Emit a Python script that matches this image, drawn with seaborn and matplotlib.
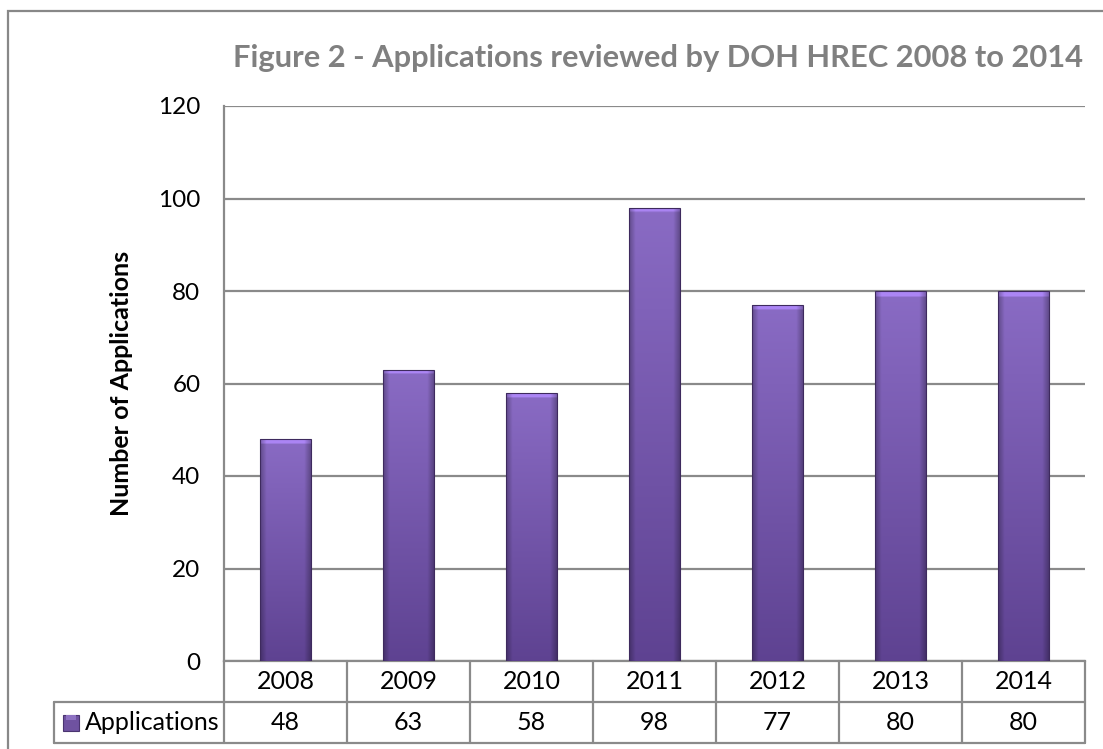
import numpy as np
import matplotlib
matplotlib.use("Agg")
import matplotlib.pyplot as plt
from matplotlib.lines import Line2D
from matplotlib.patches import Rectangle
import seaborn as sns
import pandas as pd

years = ["2008", "2009", "2010", "2011", "2012", "2013", "2014"]
applications = [48, 63, 58, 98, 77, 80, 80]
series_name = "Applications"
title_text = "Figure 2 - Applications reviewed by DOH HREC 2008 to 2014"
ylabel_text = "Number of Applications"
yticks = [0, 20, 40, 60, 80, 100, 120]

sns.set_theme(style="white")
plt.rcParams['font.family'] = ['Lato', 'DejaVu Sans']

W, H = 1103, 749
fig = plt.figure(figsize=(W / 100, H / 100), dpi=100)

def fx(px):
    return px / W

def fy(py):
    return 1 - py / H

L, R, T, B = 224, 1085, 106, 661
ax = fig.add_axes([fx(L), fy(B), (R - L) / W, (B - T) / H])

df = pd.DataFrame({"year": years, "value": applications})
base = "#6f52a0"
sns.barplot(data=df, x="year", y="value", color=base, width=0.41, ax=ax,
            saturation=1, zorder=3)

# gradient / bevel overlay on bars
def bar_gradient(nx=60, ny=200):
    top = np.array([0.54, 0.42, 0.77])
    bot = np.array([0.37, 0.26, 0.57])
    t = np.linspace(0, 1, ny)[:, None, None]
    col = top * (1 - t) + bot * t
    xs = np.linspace(-1, 1, nx)[None, :, None]
    edge = 1 - 0.28 * np.clip((np.abs(xs) - 0.75) / 0.25, 0, 1)
    img = col * edge
    img = np.broadcast_to(img, (ny, nx, 3)).copy()
    return img

gridc = "#8a8a8a"
for p in ax.patches:
    x0, y0 = p.get_x(), p.get_y()
    w, h = p.get_width(), p.get_height()
    img = bar_gradient()
    band = max(2, int(200 * min(1.2 / h, 0.08)))
    img[:band] = np.clip(img[:band] * 1.25, 0, 1)
    im = ax.imshow(img, extent=[x0, x0 + w, y0, y0 + h], aspect="auto",
                   zorder=4, interpolation="bilinear")
    im.set_clip_path(p)
    p.set_edgecolor("#3e2a5e")
    p.set_linewidth(0.8)
    p.set_zorder(5)
    p.set_facecolor("none")

ax.set_xlim(-0.5, len(years) - 0.5)
ax.set_ylim(0, 120)
ax.set_yticks(yticks)
ax.set_yticklabels([str(v) for v in yticks], fontsize=17.5, color="black")
ax.set_xticks([])
ax.set_xlabel("")
ax.set_ylabel(ylabel_text, fontsize=18, fontweight="bold", color="black")
ax.yaxis.set_label_coords((133 - L) / (R - L), 0.5)
ax.tick_params(axis="y", length=0, pad=17)
ax.yaxis.grid(True, color=gridc, linewidth=1.6, zorder=0)
ax.set_axisbelow(True)
for s in ["top", "right"]:
    ax.spines[s].set_visible(False)
for s in ["left", "bottom"]:
    ax.spines[s].set_color(gridc)
    ax.spines[s].set_linewidth(1.6)

# data table below the axis
xt = ax.get_xaxis_transform()
ph = B - T
r1 = -(702 - B) / ph
r2 = -(743 - B) / ph
tc = "#8a8a8a"
n = len(years)
for i in range(n + 1):
    ax.add_line(Line2D([i - 0.5, i - 0.5], [0, r2], transform=xt, color=tc,
                       linewidth=1.6, clip_on=False))
for yy in [702, 743]:
    fig.add_artist(Line2D([fx(54), fx(R)], [fy(yy), fy(yy)], color=tc, linewidth=1.6))
fig.add_artist(Line2D([fx(54), fx(54)], [fy(702), fy(743)], color=tc, linewidth=1.6))

for i, (yr, v) in enumerate(zip(years, applications)):
    ax.text(i, r1 / 2, yr, transform=xt, ha="center", va="center", fontsize=18,
            color="black", clip_on=False)
    ax.text(i, (r1 + r2) / 2, str(v), transform=xt, ha="center", va="center",
            fontsize=18, color="black", clip_on=False)

# legend key in table
fig.add_artist(Rectangle((fx(63), fy(731)), fx(79) - fx(63), fy(715) - fy(731),
                         facecolor="#6f52a0", edgecolor="#4a3470", linewidth=0.8))
fig.add_artist(Rectangle((fx(66), fy(720)), fx(76) - fx(66), fy(715) - fy(720),
                         facecolor="#8e72c2", edgecolor="none"))
fig.text(fx(85), fy(722.5), series_name, ha="left", va="center", fontsize=18, color="black")

# title
title = fig.text(fx(1083), fy(58), title_text, ha="right", va="center",
                 fontsize=22, fontweight="bold", color="#808080")
fig.canvas.draw()
bb = title.get_window_extent()
title.set_fontsize(22 * 850 / bb.width)

# outer chart frame
fig.add_artist(Rectangle((fx(8), fy(760)), fx(1200) - fx(8), fy(11) - fy(760),
                         facecolor="none", edgecolor="#888888", linewidth=1.6))

fig.savefig("out.png", dpi=100)
